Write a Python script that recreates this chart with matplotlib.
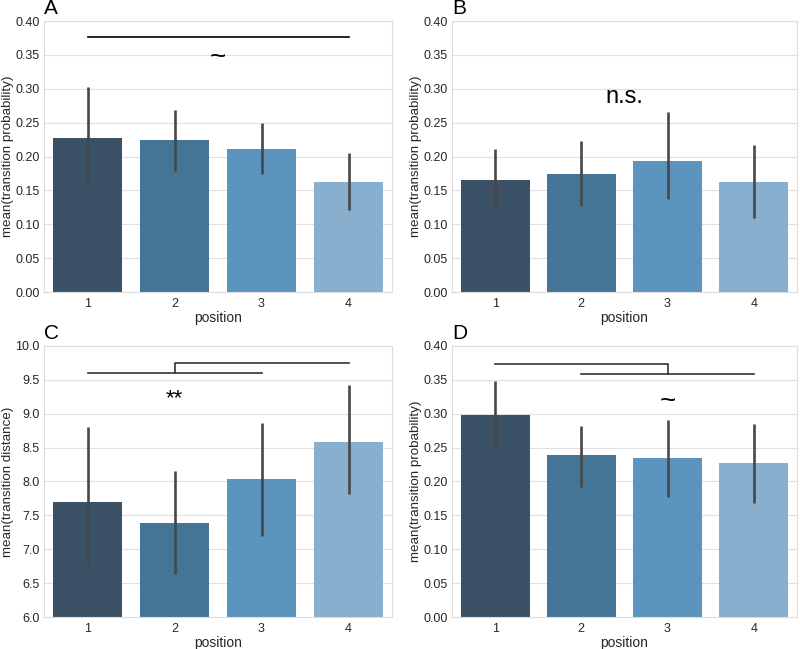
import numpy as np
import matplotlib
matplotlib.use('Agg')
import matplotlib.pyplot as plt

plt.rcParams['font.family'] = ['Liberation Sans', 'DejaVu Sans']

# dados
positions = ['1', '2', '3', '4']
colors = ['#3b5266', '#447596', '#5b95bd', '#88afcd']

# A
a_mean = [0.227, 0.224, 0.211, 0.163]
a_low = [0.160, 0.179, 0.174, 0.121]
a_high = [0.302, 0.268, 0.250, 0.205]
# B
b_mean = [0.165, 0.174, 0.193, 0.163]
b_low = [0.124, 0.127, 0.137, 0.109]
b_high = [0.211, 0.223, 0.266, 0.217]
# C
c_mean = [7.70, 7.39, 8.04, 8.59]
c_low = [6.78, 6.64, 7.20, 7.82]
c_high = [8.80, 8.16, 8.87, 9.43]
# D
d_mean = [0.298, 0.239, 0.234, 0.228]
d_low = [0.249, 0.192, 0.177, 0.168]
d_high = [0.349, 0.282, 0.291, 0.285]

prob_ticks = np.arange(0, 0.401, 0.05)
dist_ticks = np.arange(6.0, 10.01, 0.5)

fig = plt.figure(figsize=(8, 6.49), dpi=100)
axA = fig.add_axes([0.055, 0.550, 0.435, 0.4176])
axB = fig.add_axes([0.565, 0.550, 0.431, 0.4176])
axC = fig.add_axes([0.055, 0.0493, 0.435, 0.4176])
axD = fig.add_axes([0.565, 0.0493, 0.431, 0.4176])


def barras(ax, mean, low, high, ylabel, ylim, ticks, fmt):
    x = np.arange(len(mean))
    mean = np.array(mean)
    err = [mean - np.array(low), np.array(high) - mean]
    ax.bar(x, mean - ylim[0], 0.8, bottom=ylim[0], color=colors, zorder=2)
    ax.errorbar(x, mean, yerr=err, fmt='none', ecolor='#474747', elinewidth=1.9, capsize=0, zorder=3)
    ax.set_xlim(-0.5, 3.5)
    ax.set_ylim(ylim)
    ax.set_yticks(ticks)
    ax.set_yticklabels([fmt % t for t in ticks], fontsize=9, color='#262626')
    ax.set_xticks(x)
    ax.set_xticklabels(positions, fontsize=9, color='#262626')
    ax.tick_params(axis='y', length=0, pad=3)
    ax.tick_params(axis='x', length=0, pad=4)
    ax.set_xlabel('position', fontsize=10, color='#262626', labelpad=1)
    ax.set_ylabel(ylabel, fontsize=9.6, color='#262626', labelpad=1)
    ax.yaxis.grid(True, color='#e0e0e0', lw=0.8, zorder=0)
    ax.set_axisbelow(True)
    for s in ax.spines.values():
        s.set_color('#dddddd')
        s.set_linewidth(0.8)


barras(axA, a_mean, a_low, a_high, 'mean(transition probability)', (0, 0.4), prob_ticks, '%.2f')
barras(axB, b_mean, b_low, b_high, 'mean(transition probability)', (0, 0.4), prob_ticks, '%.2f')
barras(axC, c_mean, c_low, c_high, 'mean(transition distance)', (6.0, 10.0), dist_ticks, '%.1f')
barras(axD, d_mean, d_low, d_high, 'mean(transition probability)', (0, 0.4), prob_ticks, '%.2f')

for ax, letra in zip([axA, axB, axC, axD], ['A', 'B', 'C', 'D']):
    ax.text(0.0, 1.012, letra, transform=ax.transAxes, fontsize=15, ha='left', va='bottom')

# anotações de significância
axA.plot([0, 3], [0.377, 0.377], color='black', lw=1.2)
axA.text(1.5, 0.345, '~', fontsize=20, ha='center', va='center')

axB.text(1.5, 0.288, 'n.s.', fontsize=17, ha='center', va='center')

axC.plot([0, 2], [9.60, 9.60], color='#333333', lw=1.2)
axC.plot([1, 1, 3], [9.60, 9.75, 9.75], color='#333333', lw=1.2)
axC.text(1, 9.22, '**', fontsize=16, ha='center', va='center')

axD.plot([0, 2, 2], [0.373, 0.373, 0.358], color='#333333', lw=1.2)
axD.plot([1, 3], [0.358, 0.358], color='#333333', lw=1.2)
axD.text(2, 0.3175, '~', fontsize=20, ha='center', va='center')

plt.savefig('out.png', dpi=100)
